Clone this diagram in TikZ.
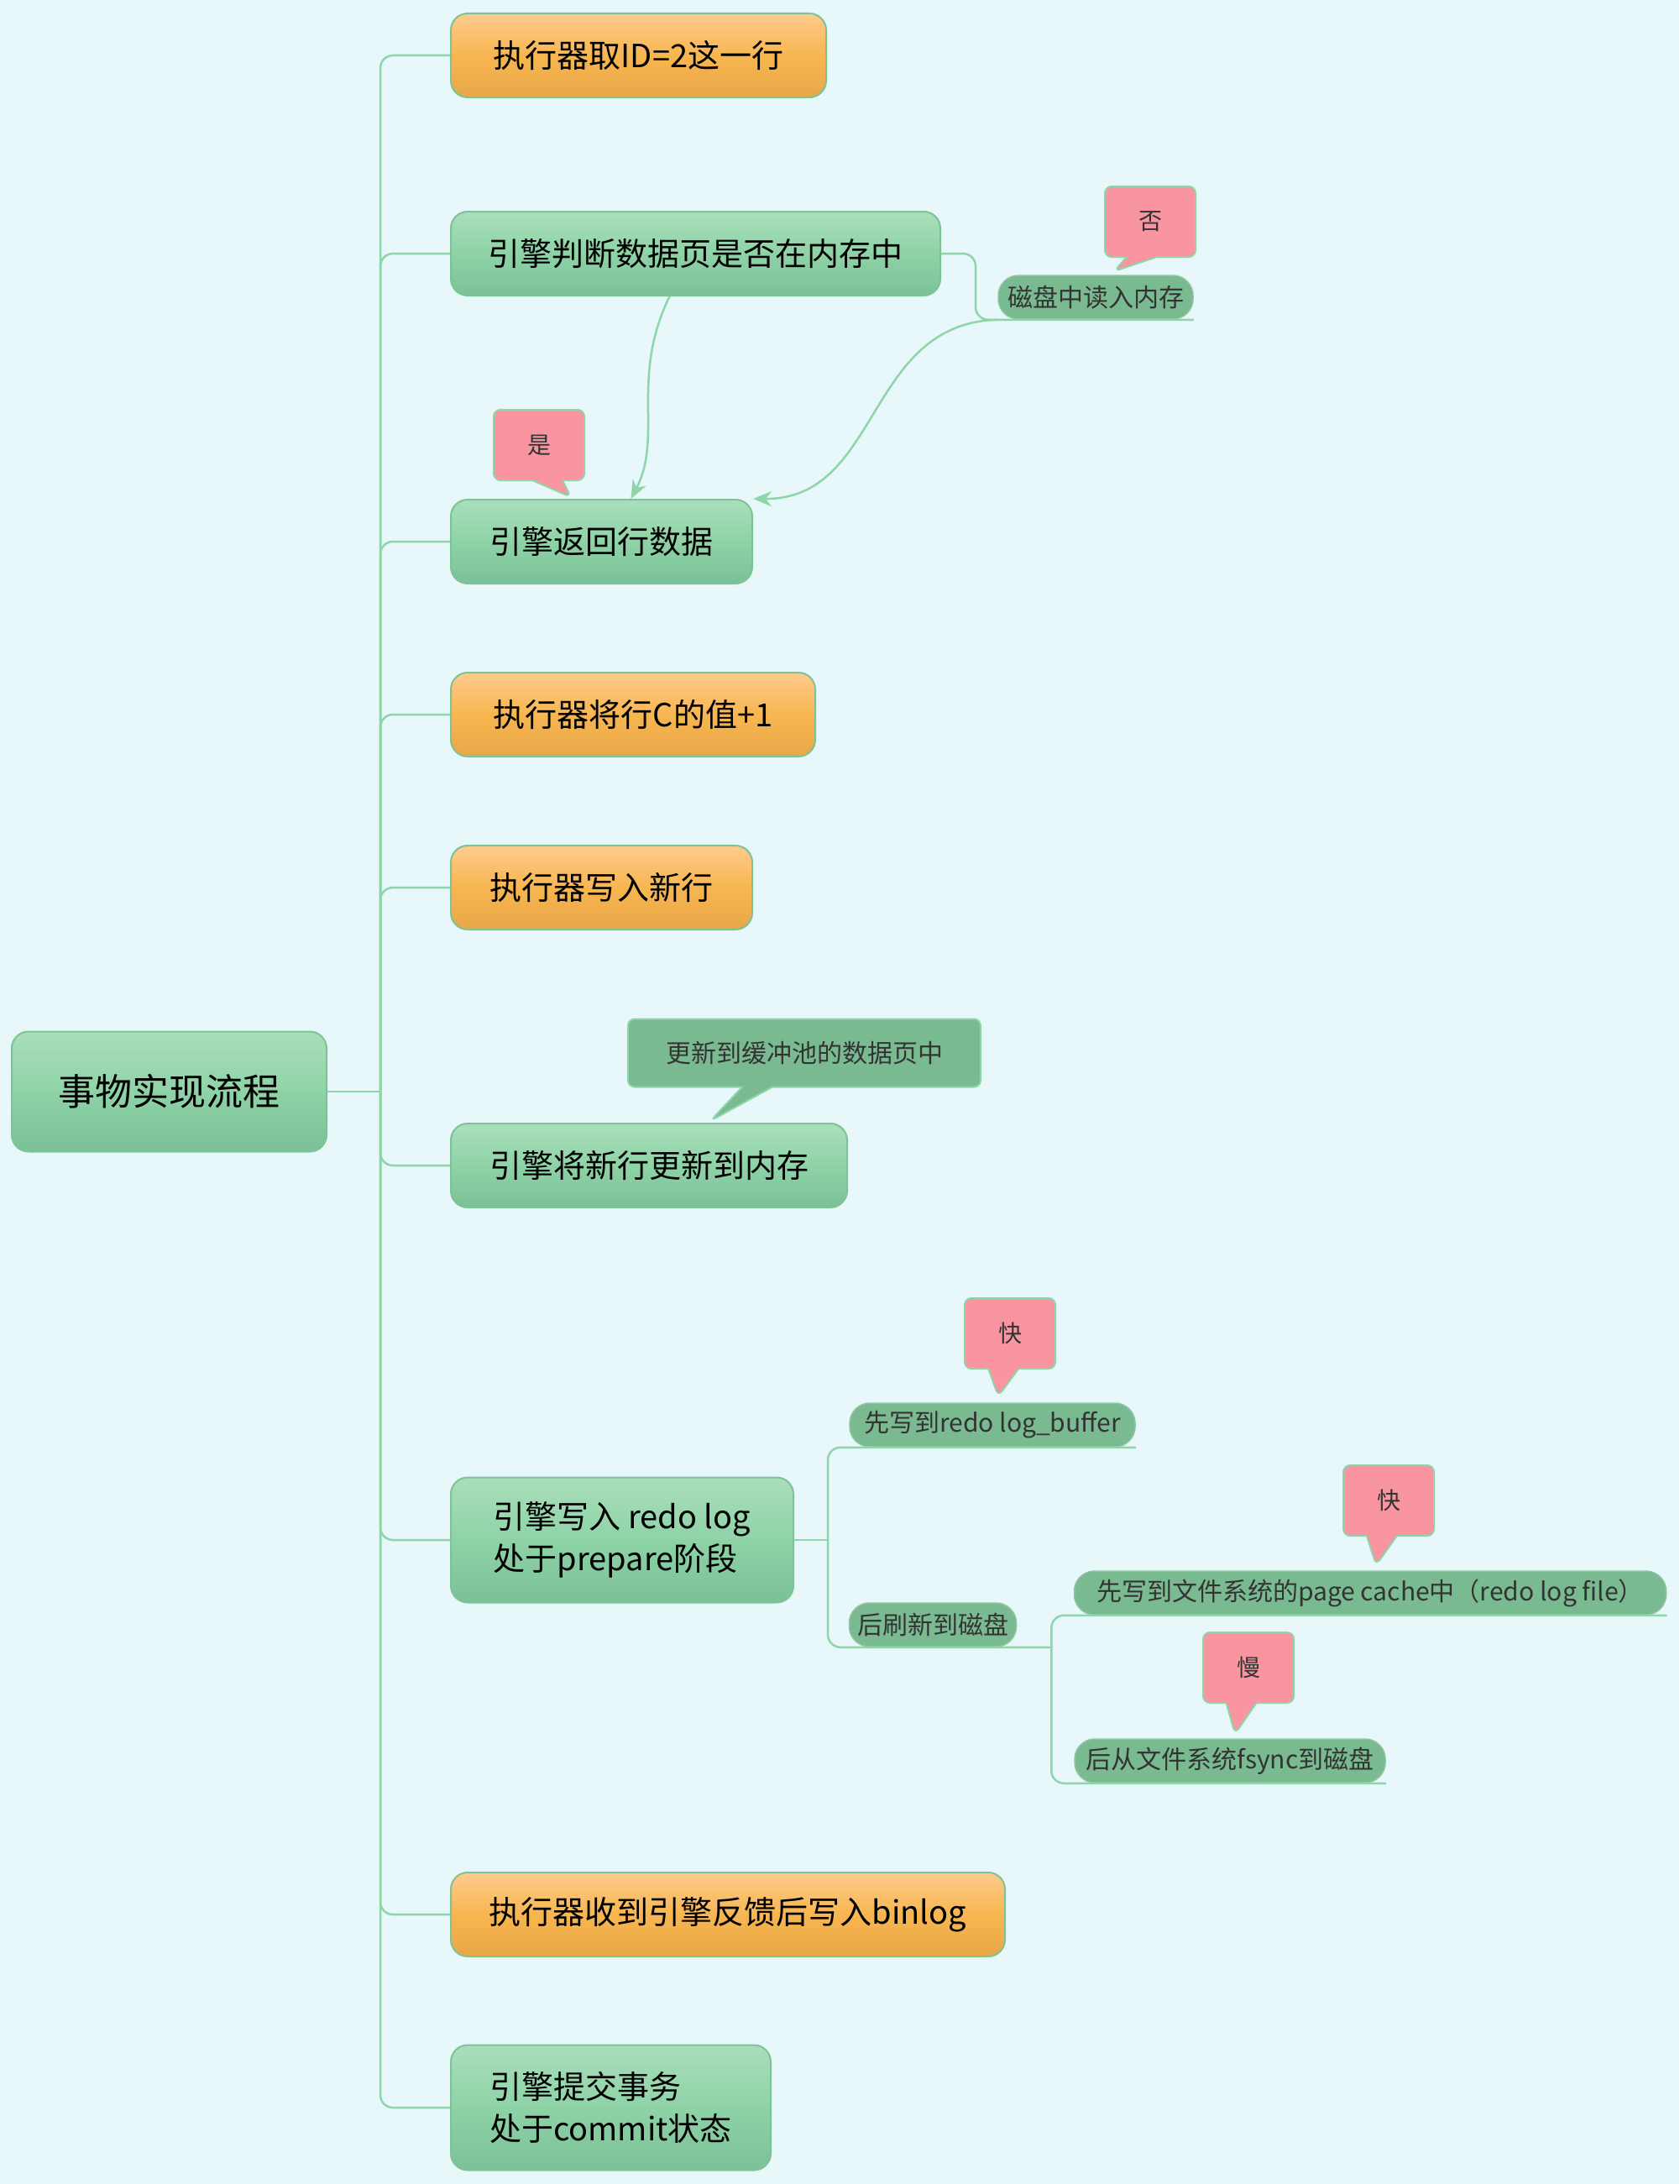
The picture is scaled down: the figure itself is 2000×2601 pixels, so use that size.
\documentclass[tikz,border=0pt]{standalone}
\usepackage{fontspec}
\setmainfont{Noto Sans CJK SC}
\usetikzlibrary{arrows.meta,shapes.callouts}

\definecolor{bgcol}{RGB}{232,247,250}
\definecolor{linecol}{RGB}{142,213,170}
\definecolor{boxedge}{RGB}{125,195,150}
\definecolor{greentop}{RGB}{170,222,188}
\definecolor{greenmid}{RGB}{142,211,166}
\definecolor{greenbot}{RGB}{123,193,152}
\definecolor{orangetop}{RGB}{253,203,141}
\definecolor{orangemid}{RGB}{248,182,80}
\definecolor{orangebot}{RGB}{232,167,72}
\definecolor{pillcol}{RGB}{122,186,145}
\definecolor{pinkcol}{RGB}{248,149,160}
\definecolor{textgray}{RGB}{51,51,51}

\begin{document}
\begin{tikzpicture}[x=1pt,y=-1pt,
  greenbox/.style={draw=boxedge, line width=2, rounded corners=20,
    top color=greentop, bottom color=greenbot, middle color=greenmid,
    minimum height=100, anchor=west, align=left,
    font=\fontsize{38}{50}\selectfont},
  orangebox/.style={greenbox,
    top color=orangetop, bottom color=orangebot, middle color=orangemid},
  pill/.style={fill=pillcol, draw=pillcol!85!white, line width=1.5,
    rounded corners=24, minimum height=52, inner xsep=4, inner ysep=0,
    text=textgray, font=\fontsize{30}{36}\selectfont},
  tag/.style={rectangle callout, fill=pinkcol, draw=linecol, line width=2,
    rounded corners=8, minimum width=108, minimum height=84,
    callout pointer width=36, text=textgray,
    font=\fontsize{28}{34}\selectfont},
  note/.style={tag, fill=pillcol, minimum width=420, minimum height=81,
    font=\fontsize{30}{36}\selectfont},
  link/.style={draw=linecol, line width=2.5, rounded corners=15},
  flow/.style={draw=linecol, line width=2.5, -{Stealth[length=22pt,width=18pt]}}]

\useasboundingbox (0,0) rectangle (2000,2601);
\fill[bgcol] (0,0) rectangle (2000,2601);

% Root and steps
\node[greenbox, minimum width=375, minimum height=143,
  font=\fontsize{44}{52}\selectfont] (root) at (13,1300) {事物实现流程};

\node[orangebox, minimum width=447] (n1) at (536,66) {执行器取ID=2这一行};
\node[greenbox, minimum width=583] (n2) at (536,302) {引擎判断数据页是否在内存中};
\node[greenbox, minimum width=359] (n3) at (536,645) {引擎返回行数据};
\node[orangebox, minimum width=434] (n4) at (536,851) {执行器将行C的值+1};
\node[orangebox, minimum width=359] (n5) at (536,1057) {执行器写入新行};
\node[greenbox, minimum width=472] (n6) at (536,1388) {引擎将新行更新到内存};
\node[greenbox, minimum width=408, minimum height=149] (n7) at (536,1834)
  {引擎写入 redo log\\处于prepare阶段};
\node[orangebox, minimum width=660] (n8) at (536,2280) {执行器收到引擎反馈后写入binlog};
\node[greenbox, minimum width=381, minimum height=149] (n9) at (536,2510)
  {引擎提交事务\\处于commit状态};

% Sub topics
\node[pill, minimum width=232] (p1) at (1305,354) {磁盘中读入内存};
\node[pill, minimum width=340] (p2) at (1182,1697) {先写到redo log\_buffer};
\node[pill, minimum width=199] (p3) at (1111,1935) {后刷新到磁盘};
\node[pill, minimum width=705] (p4) at (1632,1897) {先写到文件系统的page cache中（redo log file）};
\node[pill, minimum width=370] (p5) at (1465,2097) {后从文件系统fsync到磁盘};

% Tree lines
\coordinate (trunk) at (453,1300);
\draw[link] (root.east) -- (trunk);
\foreach \n in {n1,n2,n3,n4,n5,n6,n7,n8,n9}
  \draw[link] (trunk) |- (\n.west);

\draw[link] (n2.east) -- ++(41,0) |- (p1.south east);

\coordinate (fork7) at ([xshift=40]n7.east);
\coordinate (fork3) at ([xshift=41]p3.south east);
\draw[link] (n7.east) -- (fork7);
\draw[link] (fork7) |- (p2.south east);
\draw[link] (fork7) |- (fork3);
\draw[link] (fork3) |- (p4.south east);
\draw[link] (fork3) |- (p5.south east);

% Relations
\draw[flow] ([xshift=-31]n2.south) .. controls (750,450) and (790,520) .. ([xshift=35]n3.north);
\draw[flow] (p1.south west) .. controls (1030,385) and (1050,595) .. (n3.north east);

% Callouts
\node[tag, callout absolute pointer={(1327,323)}] (no) at (1370,264) {否};
\node[tag, callout absolute pointer={(680,592)}] (yes) at (642,530) {是};
\node[note, callout absolute pointer={(846,1335)}] (upd) at (958,1254) {更新到缓冲池的数据页中};
\node[tag, callout absolute pointer={(1189,1663)}] (fast1) at (1203,1588) {快};
\node[tag, callout absolute pointer={(1639,1864)}] (fast2) at (1654,1787) {快};
\node[tag, callout absolute pointer={(1471,2065)}] (slow) at (1487,1986) {慢};
\end{tikzpicture}
\end{document}
